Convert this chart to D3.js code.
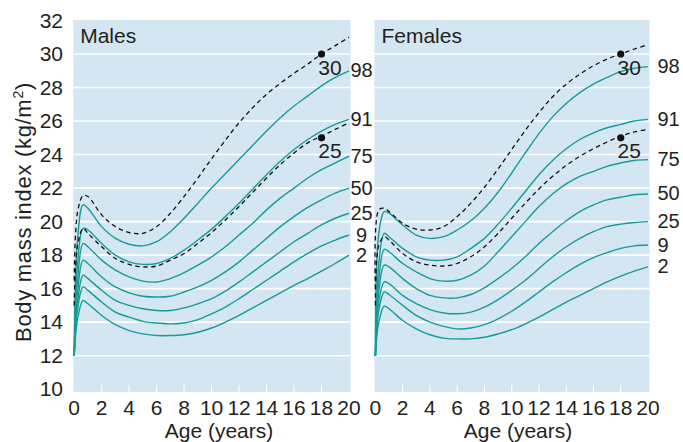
<!DOCTYPE html>
<html>
<head>
<meta charset="utf-8">
<script src="https://cdn.jsdelivr.net/npm/d3@7"></script>
<style>
  body { margin: 0; background: #fff; }
  text { font-family: "Liberation Sans", Arial, sans-serif; fill: #231f20; }
</style>
</head>
<body>
<svg width="683" height="442"></svg>
<script>
// ages at which the centile values were read
var ages = [0, 0.25, 0.65, 1, 2, 3, 4, 5, 6, 7, 8, 9, 10, 11, 12, 13, 14, 15, 16, 17, 18, 19, 20];

// males
var male2  = [12, 14.2, 15.3, 15.1, 14.4, 13.85, 13.5, 13.3, 13.2, 13.2, 13.25, 13.4, 13.65, 14.0, 14.4, 14.85, 15.3, 15.75, 16.2, 16.6, 17.05, 17.5, 18.0];
var male9  = [12, 14.8, 16.1, 15.9, 15.2, 14.6, 14.3, 14.05, 13.95, 13.9, 13.95, 14.15, 14.5, 14.9, 15.4, 15.95, 16.5, 17.05, 17.6, 18.1, 18.55, 18.9, 19.2];
var male25 = [12, 15.2, 16.8, 16.6, 15.9, 15.3, 15.0, 14.8, 14.7, 14.7, 14.85, 15.1, 15.4, 15.85, 16.4, 17.0, 17.6, 18.2, 18.8, 19.3, 19.8, 20.2, 20.5];
var male50 = [12, 15.8, 17.7, 17.5, 16.7, 16.1, 15.75, 15.55, 15.5, 15.55, 15.8, 16.1, 16.5, 17.0, 17.6, 18.3, 19.0, 19.7, 20.3, 20.85, 21.3, 21.7, 22.0];
var male75 = [12, 16.5, 18.7, 18.5, 17.7, 17.1, 16.7, 16.45, 16.4, 16.6, 16.95, 17.4, 17.9, 18.5, 19.2, 19.9, 20.7, 21.4, 22.0, 22.6, 23.1, 23.5, 23.9];
var male91 = [12, 17.5, 19.6, 19.5, 18.7, 18.0, 17.6, 17.45, 17.5, 17.8, 18.3, 18.9, 19.55, 20.3, 21.1, 21.95, 22.8, 23.6, 24.3, 24.9, 25.4, 25.8, 26.1];
var male98 = [12, 19.0, 21.0, 20.8, 19.7, 19.0, 18.65, 18.55, 18.8, 19.4, 20.2, 21.1, 22.0, 22.85, 23.7, 24.55, 25.4, 26.2, 26.9, 27.5, 28.1, 28.6, 29.0];
var maleCut25 = [15, 18.6, 19.6, 19.3, 18.5, 17.8, 17.45, 17.3, 17.35, 17.7, 18.1, 18.7, 19.35, 20.1, 20.9, 21.75, 22.6, 23.4, 24.1, 24.7, 25.1, 25.5, 25.9];
var maleCut30 = [16.5, 20.6, 21.55, 21.5, 20.4, 19.7, 19.35, 19.3, 19.7, 20.5, 21.5, 22.6, 23.75, 24.85, 25.9, 26.8, 27.6, 28.25, 28.85, 29.4, 30.0, 30.5, 31.0];

// females
var female2  = [12, 14.0, 14.95, 14.8, 14.1, 13.6, 13.25, 13.05, 13.0, 13.0, 13.1, 13.3, 13.55, 13.9, 14.3, 14.75, 15.2, 15.6, 16.0, 16.4, 16.75, 17.05, 17.3];
var female9  = [12, 14.7, 15.8, 15.65, 15.0, 14.4, 14.0, 13.75, 13.6, 13.65, 13.85, 14.2, 14.65, 15.2, 15.8, 16.4, 16.95, 17.45, 17.85, 18.15, 18.4, 18.55, 18.6];
var female25 = [12, 15.2, 16.4, 16.3, 15.6, 15.1, 14.75, 14.55, 14.5, 14.6, 14.9, 15.35, 15.9, 16.5, 17.2, 17.9, 18.5, 19.0, 19.4, 19.7, 19.85, 19.95, 20.0];
var female50 = [12, 15.8, 17.4, 17.3, 16.6, 16.0, 15.6, 15.45, 15.45, 15.65, 16.05, 16.6, 17.2, 17.9, 18.7, 19.4, 20.05, 20.6, 21.0, 21.3, 21.45, 21.6, 21.65];
var female75 = [12, 16.5, 18.35, 18.2, 17.5, 17.0, 16.6, 16.45, 16.5, 16.8, 17.35, 18.2, 19.1, 20.0, 20.9, 21.65, 22.25, 22.7, 23.0, 23.3, 23.5, 23.65, 23.7];
var female91 = [12, 17.5, 19.3, 19.1, 18.4, 17.9, 17.7, 17.7, 17.9, 18.4, 19.0, 19.85, 20.8, 21.8, 22.8, 23.65, 24.35, 24.9, 25.3, 25.6, 25.8, 26.0, 26.1];
var female98 = [12, 19.3, 20.6, 20.5, 19.8, 19.2, 19.0, 19.1, 19.5, 20.05, 20.8, 21.75, 22.9, 24.1, 25.25, 26.25, 27.05, 27.7, 28.2, 28.6, 28.95, 29.15, 29.25];
var femaleCut25 = [15, 18.6, 19.1, 18.9, 18.1, 17.6, 17.4, 17.35, 17.5, 17.9, 18.5, 19.3, 20.2, 21.1, 21.95, 22.7, 23.35, 23.9, 24.35, 24.75, 25.1, 25.35, 25.5];
var femaleCut30 = [16, 20.7, 20.8, 20.6, 19.9, 19.55, 19.5, 19.7, 20.3, 21.1, 22.05, 23.15, 24.3, 25.45, 26.5, 27.45, 28.2, 28.8, 29.3, 29.7, 30.0, 30.3, 30.55];

var centileNames = ["2", "9", "25", "50", "75", "91", "98"];
var cutoffNames = ["25", "30"];
var cutoffAge = 18;
var cutoffValues = [25, 30];
var yTicks = [10, 12, 14, 16, 18, 20, 22, 24, 26, 28, 30, 32];
var gridValues = [12, 14, 16, 18, 20, 22, 24, 26, 28, 30];
var xTicks = [0, 2, 4, 6, 8, 10, 12, 14, 16, 18, 20];

var teal = "#179b98";
var fs = 21;
var svg = d3.select("svg");

var y = d3.scaleLinear().domain([10, 32]).range([389.2, 20.5]);

var panels = [
  { title: "Males", x0: 74.2, x1: 349, centiles: [male2, male9, male25, male50, male75, male91, male98],
    cuts: [maleCut25, maleCut30], labelX: 361.5, labelAnchor: "middle", axisLabelX: 219 },
  { title: "Females", x0: 375.4, x1: 648, centiles: [female2, female9, female25, female50, female75, female91, female98],
    cuts: [femaleCut25, femaleCut30], labelX: 657.5, labelAnchor: "start", axisLabelX: 518 }
];

panels.forEach(function(p) {
  var x = d3.scaleLinear().domain([0, 20]).range([p.x0, p.x1]);
  var g = svg.append("g");

  // panel background
  g.append("rect")
    .attr("x", p.x0 - 1).attr("y", 20)
    .attr("width", p.x1 - p.x0 + 2.5).attr("height", 372)
    .attr("fill", "#d4e6f1");

  // white gridlines
  g.selectAll(".grid")
    .data(gridValues)
    .enter().append("line")
      .attr("x1", p.x0 - 1).attr("x2", p.x1 + 1.5)
      .attr("y1", function(d) { return y(d); })
      .attr("y2", function(d) { return y(d); })
      .attr("stroke", "#fff").attr("stroke-width", 1.6);

  // small white ticks along the bottom
  g.selectAll(".tk")
    .data(xTicks.slice(1, -1))
    .enter().append("line")
      .attr("x1", function(d) { return x(d); })
      .attr("x2", function(d) { return x(d); })
      .attr("y1", 385).attr("y2", 392)
      .attr("stroke", "#fff").attr("stroke-width", 1.2);

  var line = d3.line()
    .x(function(d, i) { return x(ages[i]); })
    .y(function(d) { return y(d); })
    .curve(d3.curveCatmullRom.alpha(0.5));

  // centile curves
  g.selectAll(".centile")
    .data(p.centiles)
    .enter().append("path")
      .attr("d", line)
      .attr("fill", "none")
      .attr("stroke", teal)
      .attr("stroke-width", 1.4);

  // adult cut-off curves (dashed)
  g.selectAll(".cut")
    .data(p.cuts)
    .enter().append("path")
      .attr("d", line)
      .attr("fill", "none")
      .attr("stroke", "#111")
      .attr("stroke-width", 1.3)
      .attr("stroke-dasharray", "4.5,3.5");

  // dots at 18 years
  g.selectAll(".dot")
    .data(cutoffValues)
    .enter().append("circle")
      .attr("cx", x(cutoffAge))
      .attr("cy", function(d) { return y(d); })
      .attr("r", 3.6)
      .attr("fill", "#111");

  g.selectAll(".cutlabel")
    .data(cutoffNames)
    .enter().append("text")
      .attr("x", x(cutoffAge) + 8.5)
      .attr("y", function(d, i) { return y(cutoffValues[i]) + 20.5; })
      .attr("text-anchor", "middle")
      .attr("font-size", fs)
      .text(function(d) { return d; });

  // centile labels at right
  g.selectAll(".clabel")
    .data(centileNames)
    .enter().append("text")
      .attr("x", p.labelX)
      .attr("y", function(d, i) { var v = p.centiles[i]; return y(v[v.length - 1]) + 6.5; })
      .attr("text-anchor", p.labelAnchor)
      .attr("font-size", 20)
      .text(function(d) { return d; });

  // panel title
  g.append("text")
    .attr("x", p.x0 + 6).attr("y", 43)
    .attr("font-size", fs)
    .text(p.title);

  // x tick labels
  g.selectAll(".xl")
    .data(xTicks)
    .enter().append("text")
      .attr("x", function(d) { return x(d); })
      .attr("y", 415)
      .attr("text-anchor", "middle")
      .attr("font-size", fs)
      .text(function(d) { return d; });

  g.append("text")
    .attr("x", p.axisLabelX).attr("y", 438)
    .attr("text-anchor", "middle")
    .attr("font-size", fs)
    .text("Age (years)");
});

// y tick labels
svg.selectAll(".yl")
  .data(yTicks)
  .enter().append("text")
    .attr("x", 63)
    .attr("y", function(d) { return y(d) + 7; })
    .attr("text-anchor", "end")
    .attr("font-size", fs)
    .text(function(d) { return d; });

// y axis title
var yt = svg.append("text")
  .attr("transform", "translate(31,212) rotate(-90)")
  .attr("text-anchor", "middle")
  .attr("font-size", 22)
  .attr("letter-spacing", 0.7);
yt.append("tspan").text("Body mass index (kg/m");
yt.append("tspan").attr("font-size", 14).attr("dy", -8).text("2");
yt.append("tspan").attr("dy", 8).text(")");
</script>
</body>
</html>
